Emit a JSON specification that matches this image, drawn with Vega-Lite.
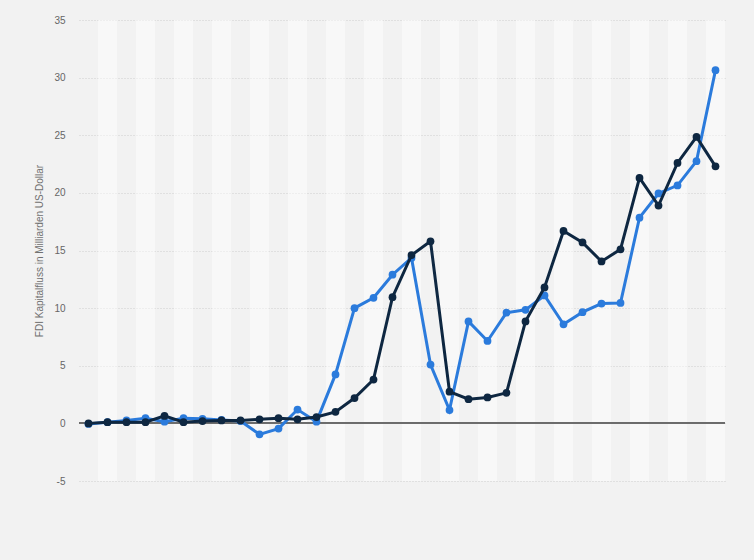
{
  "$schema": "https://vega.github.io/schema/vega-lite/v6.json",
  "autosize": "none",
  "width": 646,
  "height": 461,
  "padding": {"left": 79, "top": 20, "right": 29, "bottom": 79},
  "background": "#f2f2f2",
  "config": {
    "view": {"stroke": null},
    "font": "Liberation Sans"
  },
  "datasets": {
    "flows": [
      {"jahr": 1985, "serie": "Zuflüsse", "wert": -0.05},
      {"jahr": 1986, "serie": "Zuflüsse", "wert": 0.1},
      {"jahr": 1987, "serie": "Zuflüsse", "wert": 0.25},
      {"jahr": 1988, "serie": "Zuflüsse", "wert": 0.45},
      {"jahr": 1989, "serie": "Zuflüsse", "wert": 0.15},
      {"jahr": 1990, "serie": "Zuflüsse", "wert": 0.45},
      {"jahr": 1991, "serie": "Zuflüsse", "wert": 0.4},
      {"jahr": 1992, "serie": "Zuflüsse", "wert": 0.3},
      {"jahr": 1993, "serie": "Zuflüsse", "wert": 0.2},
      {"jahr": 1994, "serie": "Zuflüsse", "wert": -0.95},
      {"jahr": 1995, "serie": "Zuflüsse", "wert": -0.45},
      {"jahr": 1996, "serie": "Zuflüsse", "wert": 1.2},
      {"jahr": 1997, "serie": "Zuflüsse", "wert": 0.15},
      {"jahr": 1998, "serie": "Zuflüsse", "wert": 4.25},
      {"jahr": 1999, "serie": "Zuflüsse", "wert": 10.0},
      {"jahr": 2000, "serie": "Zuflüsse", "wert": 10.9},
      {"jahr": 2001, "serie": "Zuflüsse", "wert": 12.9},
      {"jahr": 2002, "serie": "Zuflüsse", "wert": 14.35},
      {"jahr": 2003, "serie": "Zuflüsse", "wert": 5.1},
      {"jahr": 2004, "serie": "Zuflüsse", "wert": 1.15},
      {"jahr": 2005, "serie": "Zuflüsse", "wert": 8.85},
      {"jahr": 2006, "serie": "Zuflüsse", "wert": 7.15},
      {"jahr": 2007, "serie": "Zuflüsse", "wert": 9.6},
      {"jahr": 2008, "serie": "Zuflüsse", "wert": 9.85},
      {"jahr": 2009, "serie": "Zuflüsse", "wert": 11.1},
      {"jahr": 2010, "serie": "Zuflüsse", "wert": 8.6},
      {"jahr": 2011, "serie": "Zuflüsse", "wert": 9.65},
      {"jahr": 2012, "serie": "Zuflüsse", "wert": 10.4},
      {"jahr": 2013, "serie": "Zuflüsse", "wert": 10.45},
      {"jahr": 2014, "serie": "Zuflüsse", "wert": 17.85},
      {"jahr": 2015, "serie": "Zuflüsse", "wert": 19.95},
      {"jahr": 2016, "serie": "Zuflüsse", "wert": 20.65},
      {"jahr": 2017, "serie": "Zuflüsse", "wert": 22.75},
      {"jahr": 2018, "serie": "Zuflüsse", "wert": 30.65},
      {"jahr": 1985, "serie": "Abflüsse", "wert": 0.0},
      {"jahr": 1986, "serie": "Abflüsse", "wert": 0.1},
      {"jahr": 1987, "serie": "Abflüsse", "wert": 0.1},
      {"jahr": 1988, "serie": "Abflüsse", "wert": 0.1},
      {"jahr": 1989, "serie": "Abflüsse", "wert": 0.65},
      {"jahr": 1990, "serie": "Abflüsse", "wert": 0.1},
      {"jahr": 1991, "serie": "Abflüsse", "wert": 0.2},
      {"jahr": 1992, "serie": "Abflüsse", "wert": 0.25},
      {"jahr": 1993, "serie": "Abflüsse", "wert": 0.25},
      {"jahr": 1994, "serie": "Abflüsse", "wert": 0.35},
      {"jahr": 1995, "serie": "Abflüsse", "wert": 0.45},
      {"jahr": 1996, "serie": "Abflüsse", "wert": 0.35},
      {"jahr": 1997, "serie": "Abflüsse", "wert": 0.55},
      {"jahr": 1998, "serie": "Abflüsse", "wert": 1.0},
      {"jahr": 1999, "serie": "Abflüsse", "wert": 2.2},
      {"jahr": 2000, "serie": "Abflüsse", "wert": 3.8},
      {"jahr": 2001, "serie": "Abflüsse", "wert": 10.95},
      {"jahr": 2002, "serie": "Abflüsse", "wert": 14.6},
      {"jahr": 2003, "serie": "Abflüsse", "wert": 15.8},
      {"jahr": 2004, "serie": "Abflüsse", "wert": 2.75},
      {"jahr": 2005, "serie": "Abflüsse", "wert": 2.1},
      {"jahr": 2006, "serie": "Abflüsse", "wert": 2.25},
      {"jahr": 2007, "serie": "Abflüsse", "wert": 2.65},
      {"jahr": 2008, "serie": "Abflüsse", "wert": 8.85},
      {"jahr": 2009, "serie": "Abflüsse", "wert": 11.8},
      {"jahr": 2010, "serie": "Abflüsse", "wert": 16.7},
      {"jahr": 2011, "serie": "Abflüsse", "wert": 15.7},
      {"jahr": 2012, "serie": "Abflüsse", "wert": 14.05},
      {"jahr": 2013, "serie": "Abflüsse", "wert": 15.1},
      {"jahr": 2014, "serie": "Abflüsse", "wert": 21.3},
      {"jahr": 2015, "serie": "Abflüsse", "wert": 18.9},
      {"jahr": 2016, "serie": "Abflüsse", "wert": 22.6},
      {"jahr": 2017, "serie": "Abflüsse", "wert": 24.85},
      {"jahr": 2018, "serie": "Abflüsse", "wert": 22.3}
    ]
  },
  "data": {"name": "flows"},
  "encoding": {
    "x": {
      "field": "jahr",
      "type": "ordinal",
      "scale": {"paddingInner": 0, "paddingOuter": 0},
      "axis": null
    }
  },
  "layer": [
    {
      "transform": [
        {"filter": "datum.serie == 'Zuflüsse' && datum.jahr % 2 == 0"}
      ],
      "mark": {"type": "bar", "color": "#ffffff", "opacity": 0.45},
      "encoding": {}
    },
    {
      "mark": {"type": "rule", "color": "#6e6e6e", "strokeWidth": 1},
      "encoding": {
        "x": null,
        "y": {
          "datum": 0,
          "type": "quantitative",
          "scale": {"domain": [-5, 35], "nice": false, "zero": false},
          "axis": {
            "values": [-5, 0, 5, 10, 15, 20, 25, 30, 35],
            "labelExpr": "replace(datum.label, '−', '-')",
            "title": "FDI Kapitalfluss in Milliarden US-Dollar",
            "titleFont": "Liberation Sans",
            "titleFontSize": 10,
            "titleFontWeight": "normal",
            "titleColor": "#707070",
            "titlePadding": 9,
            "labelFont": "Liberation Sans",
            "labelFontSize": 10,
            "labelColor": "#666666",
            "labelPadding": 14,
            "ticks": false,
            "domain": false,
            "grid": true,
            "gridColor": "#cfcfcf",
            "gridDash": [1, 2],
            "gridWidth": 1
          }
        }
      }
    },
    {
      "transform": [{"filter": "datum.serie == 'Zuflüsse'"}],
      "mark": {"type": "line", "color": "#2b7bdc", "strokeWidth": 3, "point": {"filled": true, "size": 60, "opacity": 1, "color": "#2b7bdc"}},
      "encoding": {
        "y": {"field": "wert", "type": "quantitative"}
      }
    },
    {
      "transform": [{"filter": "datum.serie == 'Abflüsse'"}],
      "mark": {"type": "line", "color": "#0e2741", "strokeWidth": 3, "point": {"filled": true, "size": 60, "opacity": 1, "color": "#0e2741"}},
      "encoding": {
        "y": {"field": "wert", "type": "quantitative"}
      }
    }
  ]
}
